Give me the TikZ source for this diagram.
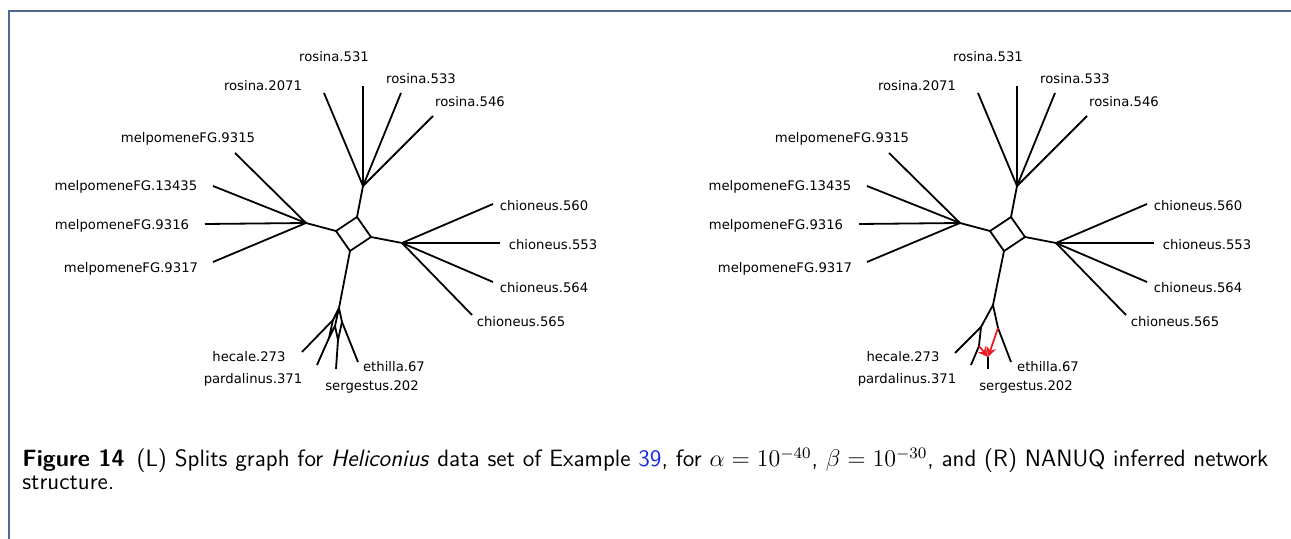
\documentclass[tikz,border=0pt]{standalone}
\usepackage{fontspec}
\usetikzlibrary{arrows.meta}
\newfontfamily\taxonfont{DejaVu Sans}
\definecolor{framegray}{RGB}{78,106,150}
\definecolor{linkblue}{RGB}{25,40,225}
\definecolor{hybridred}{RGB}{236,28,36}
\tikzset{
	edge/.style={line width=0.9pt, line join=round},
	taxon/.style={font=\taxonfont\fontsize{6.6}{8}\selectfont, inner sep=0pt},
	hybrid/.style={line width=0.9pt, color=hybridred, -{Stealth[length=5pt, width=5pt]}},
}
% part shared by both panels: box, hubs, upper leaves and all labels
\def\splitscore{
	\coordinate (sqW) at (336,231);
	\coordinate (sqN) at (357,217);
	\coordinate (sqE) at (371,237);
	\coordinate (sqS) at (350,251);
	\coordinate (hubM) at (306,223);
	\coordinate (hubR) at (363,186);
	\coordinate (hubC) at (402,243);
	\draw[edge] (sqW) -- (sqN) -- (sqE) -- (sqS) -- cycle;
	\draw[edge] (sqW) -- (hubM);
	\draw[edge] (sqN) -- (hubR);
	\draw[edge] (sqE) -- (hubC);
	%% rosina
	\coordinate (r2071) at (324,93);
	\coordinate (r531) at (363,86);
	\coordinate (r533) at (401,93);
	\coordinate (r546) at (433,116);
	\foreach \leaf in {r2071,r531,r533,r546} \draw[edge] (hubR) -- (\leaf);
	\node[taxon] (t2071) at (263,86) {rosina.2071};
	\node[taxon] (t531) at (334,57) {rosina.531};
	\node[taxon] (t533) at (421,79) {rosina.533};
	\node[taxon] (t546) at (470,102) {rosina.546};
	%% melpomene
	\coordinate (m9315) at (235,153);
	\coordinate (m13435) at (213,186);
	\coordinate (m9316) at (205,224);
	\coordinate (m9317) at (213,262);
	\foreach \leaf in {m9315,m13435,m9316,m9317} \draw[edge] (hubM) -- (\leaf);
	\node[taxon] (t9315) at (188,139) {melpomeneFG.9315};
	\node[taxon] (t13435) at (126,187) {melpomeneFG.13435};
	\node[taxon] (t9316) at (122,226) {melpomeneFG.9316};
	\node[taxon] (t9317) at (131,269) {melpomeneFG.9317};
	%% chioneus
	\coordinate (c560) at (493,204);
	\coordinate (c553) at (500,243);
	\coordinate (c564) at (493,282);
	\coordinate (c565) at (472,315);
	\foreach \leaf in {c560,c553,c564,c565} \draw[edge] (hubC) -- (\leaf);
	\node[taxon] (t560) at (544,206) {chioneus.560};
	\node[taxon] (t553) at (553,245) {chioneus.553};
	\node[taxon] (t564) at (544,288) {chioneus.564};
	\node[taxon] (t565) at (521,322) {chioneus.565};
	%% lower clade labels
	\node[taxon] (thec) at (249,357) {hecale.273};
	\node[taxon] (tpar) at (253,380) {pardalinus.371};
	\node[taxon] (tser) at (372,387) {sergestus.202};
	\node[taxon] (teth) at (394,367) {ethilla.67};
}

\begin{document}
\begin{tikzpicture}[x=0.5pt, y=-0.5pt]
			%%%%% START %%%%%
			\useasboundingbox (0,0) rectangle (1291,539);
			\draw[framegray, line width=0.7pt] (9,539) -- (9,11) -- (1291,11);
			
			%%%%% (L) splits graph
			\begin{scope}[name prefix=L-]
				\splitscore
				\coordinate (nA) at (339,308);
				\coordinate (nH) at (333,320);
				\coordinate (nM) at (335,326);
				\coordinate (nE) at (342,322);
				\coordinate (nHP) at (329,338);
				\coordinate (nPS) at (338,340);
				\coordinate (hec) at (302,352);
				\coordinate (par) at (317,365);
				\coordinate (ser) at (336,369);
				\coordinate (eth) at (358,362);
				\draw[edge] (sqS) -- (nA);
				\draw[edge] (nA) -- (nH) -- (nHP) -- (nM) -- cycle;
				\draw[edge] (nA) -- (nE) -- (nPS) -- (nM);
				\draw[edge] (nH) -- (hec);
				\draw[edge] (nHP) -- (par);
				\draw[edge] (nPS) -- (ser);
				\draw[edge] (nE) -- (eth);
			\end{scope}
			
			%%%%% (R) NANUQ network
			\begin{scope}[xshift=327pt, name prefix=R-]
				\splitscore
				\coordinate (nT) at (339,305);
				\coordinate (nL) at (327,327);
				\coordinate (nL2) at (325,346);
				\coordinate (nR) at (344,328);
				\coordinate (nH) at (334,357);
				\coordinate (hec) at (301,353);
				\coordinate (par) at (317,365);
				\coordinate (ser) at (334,369);
				\coordinate (eth) at (357,362);
				\draw[edge] (sqS) -- (nT);
				\draw[edge] (nL) -- (nT) -- (nR);
				\draw[edge] (nL) -- (nL2);
				\draw[edge] (nL) -- (hec);
				\draw[edge] (nL2) -- (par);
				\draw[edge] (nR) -- (eth);
				\draw[edge] (nH) -- (ser);
				\draw[hybrid] (nL2) -- (nH);
				\draw[hybrid] (nR) -- (nH);
			\end{scope}
			
			%%%%% caption
			\node[anchor=base west, inner sep=0pt, text width=623pt, align=justify,
				font=\sffamily\fontsize{11.8}{11.5}\selectfont] (caption) at (22,467)
				{\hyphenpenalty=10000 \textbf{Figure 14}\enspace (L) Splits graph for \textit{Heliconius} data set of Example \textcolor{linkblue}{39}, for $\alpha=10^{-40}$, $\beta=10^{-30}$, and (R) NANUQ inferred network\linebreak structure.};
			%%%%% END %%%%%
\end{tikzpicture}
\end{document}
